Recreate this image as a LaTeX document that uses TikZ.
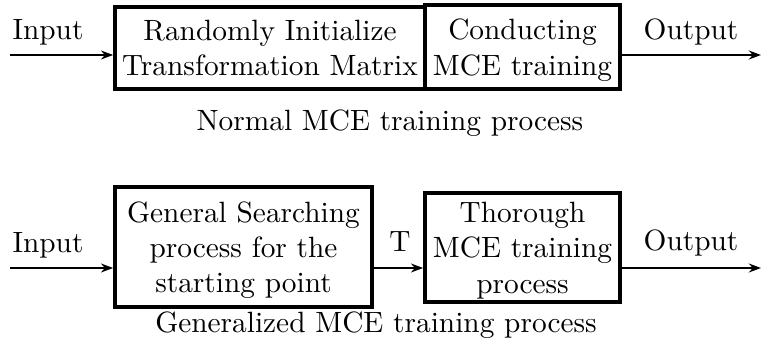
\documentclass[tikz,border=0pt]{standalone}
\usepackage{tikz}
\usetikzlibrary{arrows.meta, positioning, calc}
\newcommand{\pxu}{0.351pt}

\begin{document}
\begin{tikzpicture}[
  x=0.351pt, y=-0.351pt,
  font=\fontsize{10.3}{12.4}\selectfont,
  line join=miter,
  >={Stealth[length=1.5mm, width=1.1mm]},
  flow/.style={->, line width=0.8pt, draw=black},
  box/.style={
    draw=black, line width=1.3pt, align=center,
    inner sep=0pt, text depth=0pt
  },
  lbl/.style={inner sep=0pt}
]
\useasboundingbox (0,0) rectangle (762,349);
%% normal MCE training
\node[box, minimum width=310*\pxu, minimum height=82*\pxu] (rand) at (270,48)
  {Randomly Initialize\\Transformation Matrix};
\node[box, minimum width=195*\pxu, minimum height=84*\pxu] (cond) at (522.5,47)
  {Conducting\\MCE training};
\coordinate (inA) at (10,55);
\coordinate (outA) at (761,55);
\node[lbl] (inAlbl) at (48,32) {Input};
\node[lbl] (outAlbl) at (691,32) {Output};
\node[lbl] (capA) at (390,123) {Normal MCE training process};
\draw[flow] (inA) -- (rand.west |- inA);
\draw[flow] (cond.east |- outA) -- (outA);
%% generalized MCE training
\node[box, minimum width=257*\pxu, minimum height=120*\pxu] (search) at (243.5,247)
  {General Searching\\process for the\\starting point};
\node[box, minimum width=195*\pxu, minimum height=109*\pxu] (thor) at (522.5,247.5)
  {Thorough\\MCE training\\process};
\coordinate (inB) at (10,268);
\coordinate (outB) at (761,268);
\node[lbl] (inBlbl) at (48,245) {Input};
\node[lbl] (tlbl) at (400,242) {T};
\node[lbl] (outBlbl) at (691,243) {Output};
\node[lbl] (capB) at (376,325) {Generalized MCE training process};
\draw[flow] (inB) -- (search.west |- inB);
\draw[flow] (search.east |- inB) -- (thor.west |- inB);
\draw[flow] (thor.east |- outB) -- (outB);
\end{tikzpicture}
\end{document}
